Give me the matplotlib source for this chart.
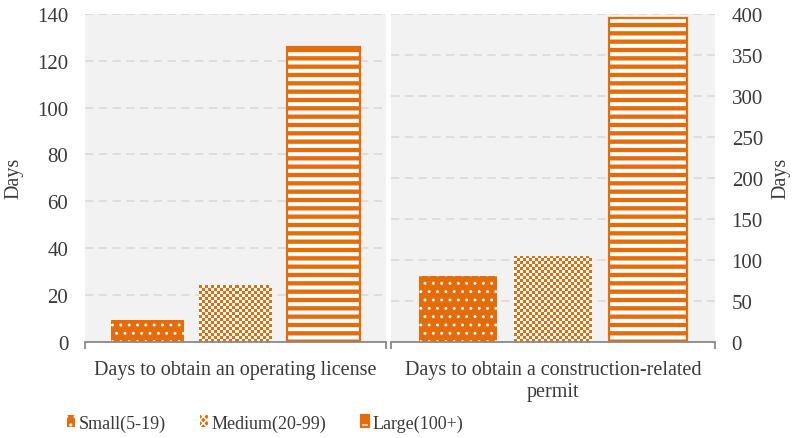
import numpy as np
import matplotlib
matplotlib.use("Agg")
import matplotlib.pyplot as plt
from matplotlib.patches import Patch
from matplotlib.legend_handler import HandlerTuple

# days needed, by firm size
sizes = ["Small(5-19)", "Medium(20-99)", "Large(100+)"]
license_days = [9.3, 24.3, 126]
permit_days = [80, 105, 395]
panel_labels = ["Days to obtain an operating license",
                "Days to obtain a construction-related\npermit"]

orange = "#E46C0A"
text_col = "#3A3A3A"
plt.rcParams["font.family"] = ["Liberation Serif", "DejaVu Serif"]
plt.rcParams["font.size"] = 14.5
plt.rcParams["text.color"] = text_col
plt.rcParams["axes.labelcolor"] = text_col
plt.rcParams["xtick.color"] = "#898989"
plt.rcParams["ytick.labelcolor"] = text_col
plt.rcParams["xtick.labelcolor"] = text_col

fig = plt.figure(figsize=(7.96, 4.39), dpi=100)
ax1 = fig.add_axes([0.1068, 0.2194, 0.378, 0.7464])
ax2 = fig.add_axes([0.4912, 0.2194, 0.407, 0.7464])

x = np.arange(len(sizes))
width = 0.82


def hatched_bar(ax, xpos, val, hatch, lw, outline=False):
    with plt.rc_context({"hatch.linewidth": lw}):
        b = ax.bar(xpos, val, width, color=orange, edgecolor="white",
                   linewidth=0, hatch=hatch, zorder=3)[0]
    if hasattr(b, "set_hatch_linewidth"):
        b.set_hatch_linewidth(lw)
    if outline:
        ax.bar(xpos, val, width, fill=False, edgecolor=orange,
               linewidth=1.6, zorder=4)
    return b


def checker_bar(ax, xpos, val):
    b = ax.bar(xpos, val, width, color="white", linewidth=0, zorder=3)[0]
    # fill the bar with a 3px orange/white checkerboard
    x0, y0 = b.get_x(), b.get_y()
    x1, y1 = x0 + b.get_width(), y0 + b.get_height()
    p0 = ax.transData.transform((x0, y0))
    p1 = ax.transData.transform((x1, y1))
    nx = max(1, int(round((p1[0] - p0[0]) / 3)))
    ny = max(1, int(round((p1[1] - p0[1]) / 3)))
    cells = (np.add.outer(np.arange(ny), np.arange(nx)) % 2).astype(float)
    img = np.ones((ny, nx, 3))
    rgb = np.array(matplotlib.colors.to_rgb(orange))
    img[cells == 0] = rgb
    im = ax.imshow(img, extent=(x0, x1, y0, y1), aspect="auto",
                   interpolation="nearest", zorder=3.5)
    im.set_clip_path(b)
    return b


panels = [(ax1, license_days, 140, 20, "left"),
          (ax2, permit_days, 400, 50, "right")]

for i, (ax, vals, top, step, side) in enumerate(panels):
    ax.set_facecolor("#F2F2F2")
    ax.set_xlim(-0.71, 2.71)
    ax.set_ylim(0, top)
    ax.set_yticks(np.arange(0, top + 1, step))
    ax.yaxis.grid(True, color="#D9D9D9", linestyle=(0, (5.5, 3.5)),
                  linewidth=1.1, zorder=0)
    ax.set_axisbelow(True)
    for s in ["top", "left", "right"]:
        ax.spines[s].set_visible(False)
    ax.spines["bottom"].set_color("#898989")
    ax.spines["bottom"].set_linewidth(1.3)
    ax.spines["bottom"].set_zorder(5)

    ax.set_xticks(ax.get_xlim())
    ax.set_xticklabels(["", ""])
    ax.tick_params(axis="x", which="major", direction="out", length=5,
                   width=1.3)
    ax.set_xticks([1], [panel_labels[i]], minor=True)
    ax.tick_params(axis="x", which="minor", length=0, pad=13)
    ax.tick_params(axis="y", length=0, pad=12, labelsize=15)
    if side == "right":
        ax.yaxis.tick_right()
        ax.yaxis.set_label_position("right")
        ax.set_ylabel("Days", labelpad=6)
    else:
        ax.set_ylabel("Days", labelpad=10)

    hatched_bar(ax, x[0], vals[0], "..", 0.9)
    checker_bar(ax, x[1], vals[1])
    hatched_bar(ax, x[2], vals[2], "--", 2.9, outline=True)
    ax.set_xlim(-0.71, 2.71)
    ax.set_ylim(0, top)

# legend swatches
with plt.rc_context({"hatch.linewidth": 0.8}):
    h_small = Patch(facecolor=orange, edgecolor="white", linewidth=0,
                    hatch="..")
with plt.rc_context({"hatch.linewidth": 1.2}):
    h_med = Patch(facecolor=orange, edgecolor="white", linewidth=0,
                  hatch="xxxxx")
with plt.rc_context({"hatch.linewidth": 2.5}):
    h_large = (Patch(facecolor=orange, edgecolor="white", linewidth=0,
                     hatch="-"),
               Patch(fill=False, edgecolor=orange, linewidth=1.6))

fig.legend([h_small, h_med, h_large], sizes, ncol=3, frameon=False,
           loc="center left", bbox_to_anchor=(0.084, 1 - 424 / 439),
           fontsize=13, borderpad=0, borderaxespad=0, handlelength=0.45,
           handleheight=0.65, handletextpad=0.2, columnspacing=1.9,
           handler_map={tuple: HandlerTuple(ndivide=1)})

fig.savefig("out.png", dpi=100)
